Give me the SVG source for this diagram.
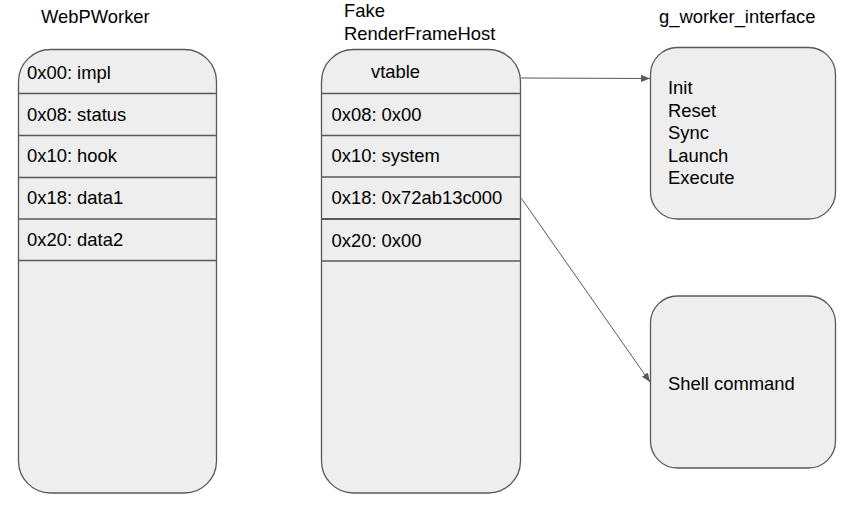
<svg xmlns="http://www.w3.org/2000/svg" width="855" height="516" viewBox="0 0 855 516">
<defs>
<style>
.box{fill:#eeeeee;stroke:#595959;stroke-width:1.3}
.div{stroke:#595959;stroke-width:1.3;fill:none}
.t{font-family:"Liberation Sans",Arial,sans-serif;font-size:18.4px;fill:#000}
.c{stroke:#595959;stroke-width:1;fill:none}
</style>
<marker id="ah" viewBox="0 0 10 10" refX="10" refY="5" markerWidth="9" markerHeight="9" markerUnits="userSpaceOnUse" orient="auto">
<path d="M0,1 L10,5 L0,9 z" fill="#595959"/>
</marker>
</defs>
<rect width="855" height="516" fill="#ffffff"/>

<g id="webpworker">
<text class="t" x="41" y="23">WebPWorker</text>
<rect class="box" x="18.5" y="49.5" width="198" height="443.5" rx="32" ry="32"/>
<path class="div" d="M18.5,93.5H216.5M18.5,135.5H216.5M18.5,177.5H216.5M18.5,219H216.5M18.5,260.5H216.5"/>
<text class="t" x="27" y="79">0x00: impl</text>
<text class="t" x="27" y="120.7">0x08: status</text>
<text class="t" x="27" y="162.3">0x10: hook</text>
<text class="t" x="27" y="204">0x18: data1</text>
<text class="t" x="27" y="246">0x20: data2</text>
</g>

<g id="fake-renderframehost">
<text class="t" x="344" y="17">Fake</text>
<text class="t" x="344" y="39.5">RenderFrameHost</text>
<rect class="box" x="321.5" y="49.5" width="199" height="443.5" rx="32" ry="32"/>
<path class="div" d="M321.5,93.5H520.5M321.5,135.5H520.5M321.5,177H520.5M321.5,261H520.5"/>
<path d="M321.5,219H520.5" stroke="#595959" stroke-width="2.2"/>
<text class="t" x="371" y="77.5">vtable</text>
<text class="t" x="331.5" y="120.7">0x08: 0x00</text>
<text class="t" x="331.5" y="162.3">0x10: system</text>
<text class="t" x="331.5" y="204">0x18: 0x72ab13c000</text>
<text class="t" x="331.5" y="246.5">0x20: 0x00</text>
</g>

<g id="g-worker-interface">
<text class="t" x="659" y="23">g_worker_interface</text>
<rect class="box" x="650.5" y="47.5" width="185" height="171.5" rx="27" ry="27"/>
<text class="t" x="668" y="94">Init</text>
<text class="t" x="668" y="116.5">Reset</text>
<text class="t" x="668" y="139">Sync</text>
<text class="t" x="668" y="161.5">Launch</text>
<text class="t" x="668" y="184">Execute</text>
</g>

<g id="shell-command">
<rect class="box" x="650.5" y="296" width="185" height="172" rx="27" ry="27"/>
<text class="t" x="668" y="389.5">Shell command</text>
</g>

<g id="connectors">
<line class="c" x1="521" y1="78" x2="650" y2="78.5" marker-end="url(#ah)"/>
<line class="c" x1="521.5" y1="198.5" x2="650" y2="382" marker-end="url(#ah)"/>
</g>
</svg>
